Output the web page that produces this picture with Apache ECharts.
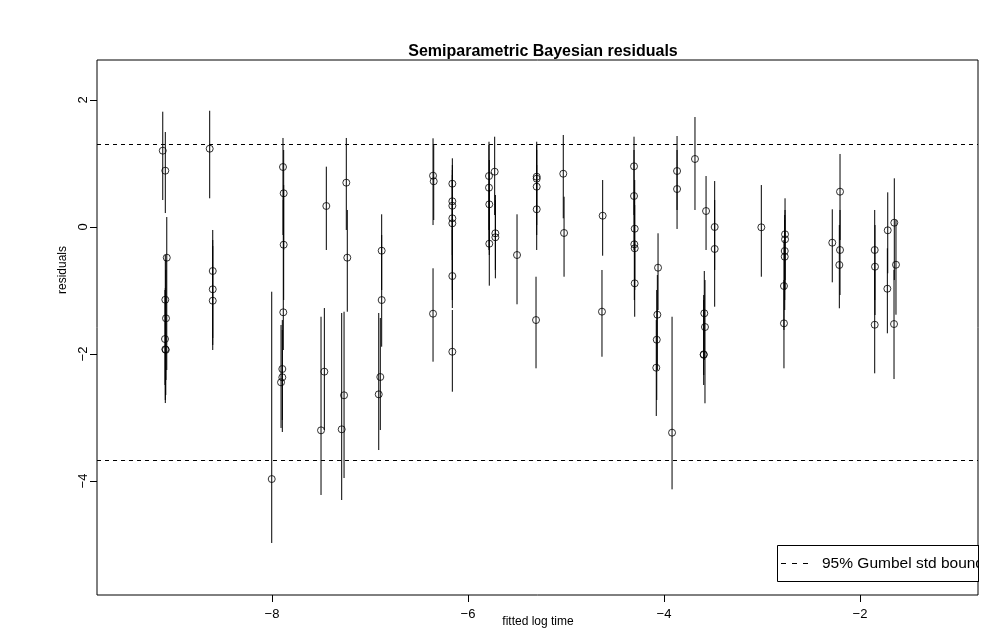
<!DOCTYPE html>
<html>
<head>
<meta charset="utf-8">
<title>Semiparametric Bayesian residuals</title>
<script src="https://cdn.jsdelivr.net/npm/echarts@6/dist/echarts.min.js"></script>
<style>
  html, body { margin: 0; padding: 0; background: #fff; }
  #chart { width: 981px; height: 635px; }
</style>
</head>
<body>
<div id="chart"></div>
<script>
// Fitted log survival time for each observation
const fittedLogTime = [
  -9.115, -9.089, -9.074, -9.089, -9.082, -9.092, -9.089, -9.084,
  -8.636, -8.605, -8.605, -8.605,
  -8.003, -7.888, -7.881, -7.881, -7.885, -7.895, -7.895, -7.908,
  -7.500, -7.466, -7.446,
  -7.289, -7.265, -7.242, -7.232,
  -6.911, -6.895, -6.881, -6.881,
  -6.357, -6.350, -6.357,
  -6.160, -6.160, -6.160, -6.160, -6.160, -6.160, -6.160,
  -5.786, -5.786, -5.783, -5.783, -5.728, -5.721, -5.721,
  -5.500,
  -5.299, -5.299, -5.299, -5.299, -5.306,
  -5.028, -5.020,
  -4.626, -4.633,
  -4.306, -4.306, -4.299, -4.303, -4.299, -4.299,
  -4.061, -4.068, -4.074, -4.079,
  -3.918, -3.867, -3.867, -3.684,
  -3.571, -3.589, -3.582, -3.595, -3.595,
  -3.483, -3.483,
  -3.007,
  -2.765, -2.765, -2.768, -2.768, -2.776, -2.776,
  -2.283, -2.204, -2.204, -2.211,
  -1.850, -1.847, -1.850,
  -1.717, -1.721, -1.650, -1.633, -1.653
];

// Posterior mean residual
const residual = [
  1.202, 0.887, -0.483, -1.145, -1.438, -1.764, -1.926, -1.934,
  1.233, -0.693, -0.981, -1.161,
  -3.969, 0.945, 0.531, -0.279, -1.343, -2.236, -2.367, -2.446,
  -3.202, -2.278, 0.331,
  -3.186, -2.650, 0.698, -0.483,
  -2.635, -2.362, -1.150, -0.373,
  0.808, 0.720, -1.365,
  0.682, 0.405, 0.335, 0.137, 0.058, -0.772, -1.964,
  0.803, 0.619, 0.357, -0.263, 0.871, -0.099, -0.162,
  -0.441,
  0.792, 0.761, 0.635, 0.279, -1.465,
  0.839, -0.094,
  0.178, -1.333,
  0.956, 0.488, -0.027, -0.272, -0.335, -0.887,
  -0.641, -1.381, -1.775, -2.216,
  -3.239, 0.882, 0.598, 1.071,
  0.252, -1.359, -1.575, -2.005, -2.013,
  0.000, -0.346,
  -0.005,
  -0.115, -0.194, -0.378, -0.468, -0.929, -1.517,
  -0.247, 0.556, -0.362, -0.598,
  -0.362, -0.625, -1.539,
  -0.052, -0.972, 0.068, -0.594, -1.528
];

// Lower end of each residual's credible interval
const residualLower = [
  0.425, 0.220, -2.252, -2.772, -2.409, -2.488, -2.724, -2.646,
  0.452, -1.748, -1.937, -1.858,
  -4.976, -0.126, -0.362, -1.150, -1.937, -3.039, -3.228, -3.165,
  -4.220, -3.197, -0.362,
  -4.299, -3.953, -0.047, -1.334,
  -3.512, -3.197, -1.885, -0.992,
  0.031, 0.110, -2.121,
  -0.205, -0.520, -0.441, -0.992, -1.150, -1.276, -2.594,
  -0.047, -0.362, -0.441, -0.924, 0.189, -0.808, -0.677,
  -1.217,
  0.268, 0.031, -0.126, -0.362, -2.225,
  0.137, -0.783,
  -0.452, -2.043,
  0.189, -0.362, -0.835, -1.150, -0.992, -1.413,
  -1.307, -2.252, -2.724, -2.976,
  -4.131, 0.268, -0.031, 0.268,
  -0.362, -2.094, -2.776, -2.331, -2.488,
  -0.677, -1.255,
  -0.783,
  -0.835, -0.992, -1.150, -1.307, -1.622, -2.225,
  -0.871, -0.205, -1.071, -1.280,
  -1.150, -1.386, -2.304,
  -0.729, -1.674, -0.835, -1.381, -2.394
];

// Upper end of each residual's credible interval
const residualUpper = [
  1.816, 1.496, 0.157, -0.961, -0.520, -0.992, -0.441, -0.677,
  1.831, -0.047, -0.299, -0.205,
  -1.019, 1.402, 1.213, 0.661, 0.425, -1.465, -1.622, -1.543,
  -1.413, -1.276, 0.950,
  -1.354, -1.334, 1.402, 0.268,
  -1.354, -1.433, -0.126, 0.200,
  1.397, 1.291, -0.650,
  1.082, 0.976, 0.898, 0.819, 0.740, -0.047, -1.307,
  1.343, 1.291, 1.055, 0.583, 1.422, 0.504, 0.425,
  0.200,
  1.343, 1.291, 1.213, 0.976, -0.783,
  1.449, 0.477,
  0.740, -0.677,
  1.422, 1.213, 0.740, 0.425, 0.346, -0.205,
  -0.099, -0.756, -0.992, -1.465,
  -1.413, 1.433, 1.213, 1.732,
  0.803, -0.693, -0.835, -1.150, -1.071,
  0.724, 0.425,
  0.661,
  0.452, 0.268, 0.189, 0.110, -0.205, -0.835,
  0.279, 1.150, 0.268, 0.031,
  0.268, 0.031, -0.677,
  0.546, -0.335, 0.767, 0.110, -0.677
];

// 95% bounds of the standard (minimum) Gumbel distribution
const gumbelBounds = [1.302, -3.676];

const xTicks = [-8, -6, -4, -2];
const yTicks = [-4, -2, 0, 2];

const FONT = '"Liberation Sans", Arial, Helvetica, sans-serif';
const minusSign = v => String(v).replace('-', '\u2212');

const points = fittedLogTime.map((x, i) => [x, residual[i]]);
const intervals = fittedLogTime.map((x, i) => [x, residualLower[i], residualUpper[i]]);

const chart = echarts.init(document.getElementById('chart'), null, { renderer: 'canvas' });

chart.setOption({
  animation: false,
  backgroundColor: '#fff',
  title: {
    text: 'Semiparametric Bayesian residuals',
    left: 538,
    top: 39,
    textAlign: 'center',
    textStyle: { fontFamily: FONT, fontSize: 16, fontWeight: 'bold', color: '#000' }
  },
  grid: {
    left: 97, right: 3, top: 60, bottom: 40,
    outerBoundsMode: 'none',
    containLabel: false,
    show: true, borderColor: '#000', borderWidth: 1, backgroundColor: 'transparent'
  },
  xAxis: {
    type: 'value',
    min: -9.786, max: -0.796,
    axisLine: { show: false, onZero: false },
    splitLine: { show: false },
    axisTick: { show: true, inside: false, length: 7, customValues: xTicks, lineStyle: { color: '#000', width: 1 } },
    axisLabel: { customValues: xTicks, margin: 13, fontFamily: FONT, fontSize: 13, color: '#000', formatter: minusSign }
  },
  yAxis: {
    type: 'value',
    min: -5.795, max: 2.630,
    axisLine: { show: false, onZero: false },
    splitLine: { show: false },
    axisTick: { show: true, inside: false, length: 7, customValues: yTicks, lineStyle: { color: '#000', width: 1 } },
    axisLabel: { customValues: yTicks, rotate: 90, margin: 7, fontFamily: FONT, fontSize: 13, color: '#000', formatter: minusSign }
  },
  series: [
    {
      name: 'interval',
      type: 'custom',
      data: intervals,
      silent: true,
      renderItem: function (params, api) {
        const lo = api.coord([api.value(0), api.value(1)]);
        const hi = api.coord([api.value(0), api.value(2)]);
        return {
          type: 'line',
          shape: { x1: lo[0], y1: lo[1], x2: hi[0], y2: hi[1] },
          style: { stroke: '#000', lineWidth: 1 }
        };
      },
      z: 2
    },
    {
      name: 'residual',
      type: 'scatter',
      data: points,
      symbol: 'circle',
      symbolSize: 7,
      silent: true,
      itemStyle: { color: 'rgba(0,0,0,0)', borderColor: '#000', borderWidth: 1 },
      markLine: {
        silent: true,
        symbol: ['none', 'none'],
        label: { show: false },
        lineStyle: { color: '#000', width: 1, type: [4, 4] },
        data: gumbelBounds.map(v => ({ yAxis: v }))
      },
      z: 3
    }
  ],
  graphic: [
    {
      type: 'text',
      left: 57,
      top: 246,
      rotation: Math.PI / 2,
      style: { text: 'residuals', fontFamily: FONT, fontSize: 12, fill: '#000', textAlign: 'center', textVerticalAlign: 'middle' }
    },
    {
      type: 'text',
      x: 538,
      y: 622,
      style: { text: 'fitted log time', fontFamily: FONT, fontSize: 12, fill: '#000', align: 'center', verticalAlign: 'middle' }
    },
    {
      type: 'group',
      z: 100,
      children: [
        { type: 'rect', shape: { x: 777.5, y: 545.5, width: 260, height: 36 },
          style: { fill: '#fff', stroke: '#000', lineWidth: 1 } },
        { type: 'line', shape: { x1: 781, y1: 563.5, x2: 808, y2: 563.5 },
          style: { stroke: '#000', lineWidth: 1, lineDash: [5, 6] } },
        { type: 'text', x: 822, y: 563.5,
          style: { text: '95% Gumbel std bound', fontFamily: FONT, fontSize: 15.5, fill: '#000', verticalAlign: 'middle' } },
        { type: 'rect', shape: { x: 979, y: 540, width: 10, height: 50 }, style: { fill: '#fff' } },
        { type: 'line', shape: { x1: 978.5, y1: 545, x2: 978.5, y2: 582 }, style: { stroke: '#000', lineWidth: 1 } }
      ]
    }
  ]
});
</script>
</body>
</html>
